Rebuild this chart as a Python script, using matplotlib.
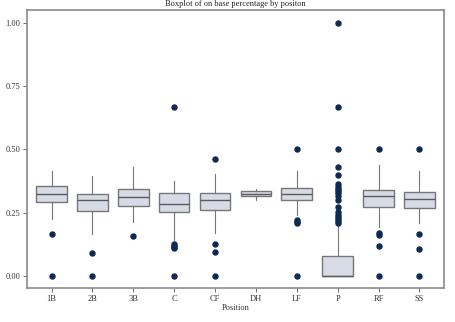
import matplotlib
matplotlib.use("Agg")
import matplotlib.pyplot as plt

positions = ["1B", "2B", "3B", "C", "CF", "DH", "LF", "P", "RF", "SS"]

# box summary per position: whisker low, q1, median, q3, whisker high
whislo = [0.225, 0.168, 0.214, 0.142, 0.171, 0.299, 0.241, 0.000, 0.195, 0.210]
q1     = [0.294, 0.257, 0.276, 0.251, 0.259, 0.315, 0.299, 0.000, 0.272, 0.270]
med    = [0.324, 0.299, 0.311, 0.286, 0.299, 0.325, 0.324, 0.000, 0.315, 0.304]
q3     = [0.354, 0.325, 0.345, 0.328, 0.328, 0.334, 0.349, 0.080, 0.340, 0.330]
whishi = [0.416, 0.396, 0.429, 0.376, 0.403, 0.342, 0.415, 0.200, 0.438, 0.416]

outliers = [
    [0.0, 0.166],
    [0.0, 0.090],
    [0.157],
    [0.0, 0.109, 0.114, 0.118, 0.126, 0.667],
    [0.0, 0.095, 0.125, 0.462],
    [],
    [0.0, 0.208, 0.215, 0.220, 0.500],
    [0.210, 0.217, 0.224, 0.232, 0.241, 0.254, 0.274, 0.300, 0.316,
     0.326, 0.334, 0.343, 0.353, 0.363, 0.400, 0.429, 0.500, 0.667, 1.0],
    [0.0, 0.118, 0.162, 0.171, 0.500],
    [0.0, 0.105, 0.167, 0.500],
]

plt.rcParams["font.family"] = ["Liberation Serif", "DejaVu Serif"]

fig = plt.figure(figsize=(4.55, 3.22), dpi=100)
ax = fig.add_axes([0.0593, 0.1056, 0.9165, 0.8634])

stats = []
for i, name in enumerate(positions):
    stats.append(dict(label=name, whislo=whislo[i], q1=q1[i], med=med[i],
                      q3=q3[i], whishi=whishi[i], fliers=outliers[i]))

edge = "#767676"
ax.bxp(stats, positions=range(len(positions)), widths=0.75,
       patch_artist=True, showcaps=False,
       boxprops=dict(facecolor="#d6dbe6", edgecolor=edge, linewidth=1.0),
       medianprops=dict(color="#5a5a5a", linewidth=1.0),
       whiskerprops=dict(color=edge, linewidth=0.8),
       flierprops=dict(marker="o", markersize=3.6, markerfacecolor="#0c2a52",
                       markeredgecolor="#0c2a52", linestyle="none"))

ax.set_xlim(-0.6, 9.6)
ax.set_ylim(-0.047, 1.05)
ax.set_yticks([0.0, 0.25, 0.5, 0.75, 1.0])
ax.set_yticklabels(["0.00", "0.25", "0.50", "0.75", "1.00"])

for s in ax.spines.values():
    s.set_color("#8a8a8a")
    s.set_linewidth(1.2)
ax.tick_params(colors="#555555", labelcolor="#333333", labelsize=6,
               length=3, width=0.6, pad=2)

ax.set_title("Boxplot of on base percentage by positon", fontsize=6,
             color="#222222", pad=3)
ax.set_xlabel("Position", fontsize=6, color="#333333", labelpad=1)
ax.set_ylabel("OBP", fontsize=6, color="#333333", labelpad=6)
ax.yaxis.set_label_coords(-0.066, 0.5)

fig.savefig("out.png", dpi=100)
